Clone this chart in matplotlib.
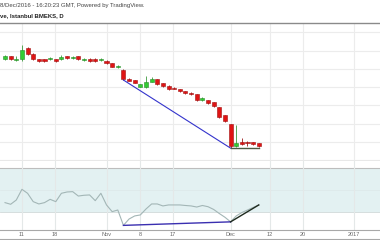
import matplotlib
matplotlib.use("Agg")
import matplotlib.pyplot as plt
import numpy as np
from matplotlib.lines import Line2D

# ---------------- DATA ----------------
# daily candles, Oct -> Dec 2016 (index = trading day)
opens = [1.454, 1.470, 1.451, 1.454, 1.512, 1.481, 1.452, 1.452, 1.452, 1.452,
         1.454, 1.470, 1.459, 1.470, 1.446, 1.454, 1.454, 1.448, 1.443, 1.430,
         1.408, 1.393, 1.347, 1.339, 1.302, 1.299, 1.330, 1.343, 1.321, 1.308,
         1.295, 1.290, 1.279, 1.270, 1.262, 1.230, 1.230, 1.219, 1.191, 1.148,
         1.098, 0.978, 1.000, 0.997, 1.000, 0.995]
closes = [1.470, 1.452, 1.454, 1.503, 1.481, 1.452, 1.443, 1.443, 1.457, 1.443,
          1.466, 1.457, 1.464, 1.452, 1.454, 1.443, 1.443, 1.452, 1.430, 1.411,
          1.417, 1.344, 1.336, 1.325, 1.315, 1.330, 1.343, 1.315, 1.306, 1.288,
          1.292, 1.279, 1.268, 1.260, 1.230, 1.242, 1.213, 1.197, 1.137, 1.115,
          0.978, 0.995, 0.989, 0.996, 0.989, 0.978]
highs = [1.475, 1.472, 1.472, 1.530, 1.519, 1.484, 1.454, 1.454, 1.464, 1.454,
         1.475, 1.472, 1.472, 1.472, 1.459, 1.457, 1.457, 1.459, 1.446, 1.432,
         1.420, 1.399, 1.350, 1.341, 1.318, 1.361, 1.355, 1.346, 1.324, 1.311,
         1.301, 1.292, 1.281, 1.273, 1.265, 1.246, 1.232, 1.221, 1.194, 1.150,
         1.101, 1.093, 1.022, 1.005, 1.003, 0.997]
lows = [1.448, 1.448, 1.443, 1.443, 1.475, 1.448, 1.440, 1.440, 1.448, 1.440,
        1.451, 1.454, 1.452, 1.448, 1.443, 1.440, 1.440, 1.443, 1.427, 1.408,
        1.404, 1.339, 1.333, 1.322, 1.299, 1.296, 1.327, 1.312, 1.303, 1.285,
        1.290, 1.276, 1.265, 1.257, 1.227, 1.227, 1.210, 1.194, 1.134, 1.112,
        0.967, 0.973, 0.986, 0.978, 0.986, 0.975]

rsi = [38.5, 37.0, 40.9, 50.6, 47.0, 39.4, 37.3, 38.5, 41.5, 39.4,
       47.0, 48.2, 48.5, 44.5, 45.2, 45.5, 40.3, 47.0, 36.4, 30.3,
       31.8, 17.8, 23.6, 26.4, 27.3, 32.7, 37.3, 37.3, 35.5, 36.4,
       36.4, 36.4, 35.9, 35.5, 34.5, 35.9, 34.8, 32.3, 28.6, 25.2,
       21.0, 26.4, 29.5, 31.8, 34.1, 36.4]

tick_pos = [3, 8.9, 18, 24, 29.8, 40, 47, 52.8, 61.9]
tick_labels = ["11", "18", "Nov", "8", "17", "Dec", "12", "20", "2017"]

# divergence drawing (candle indices)
div_from = 21
div_to = 40
last_bar = 45

# ---------------- FIGURE ----------------
fig = plt.figure(figsize=(3.8, 2.4), dpi=100)
fig.patch.set_facecolor("white")

ax1 = fig.add_axes([0, 0.330, 1, 0.574])
ax2 = fig.add_axes([0, 0.0417, 1, 0.2875])

x = np.arange(len(opens))
o = np.array(opens)
c = np.array(closes)
up = c >= o

grid_col = "#ececec"

# ---------------- PRICE PANE ----------------
for xv in tick_pos:
    ax1.axvline(xv, color=grid_col, lw=0.8, zorder=0)
for yv in np.arange(0.9, 1.65, 0.1):
    ax1.axhline(yv, color=grid_col, lw=0.8, zorder=0)

wick_cols = np.where(up, "#3d9a3d", "#9a1a1a")
ax1.vlines(x, lows, highs, colors=wick_cols, lw=0.6, zorder=2)

body_h = np.where(np.abs(c - o) < 0.002, 0.002, c - o)
ax1.bar(x[up], body_h[up], bottom=o[up], width=0.72,
        color="#33cc33", edgecolor="#2a8a2a", lw=0.4, zorder=3)
ax1.bar(x[~up], body_h[~up], bottom=o[~up], width=0.72,
        color="#e01414", edgecolor="#a01010", lw=0.4, zorder=3)

ax1.plot([div_from, div_to], [lows[div_from], lows[div_to]],
         color="#3434cc", lw=0.8, zorder=4)
ax1.plot([div_to, last_bar], [lows[div_to], lows[div_to]],
         color="#4d5b45", lw=1.0, zorder=4)

ax1.set_xlim(-0.89, 66.5)
ax1.set_ylim(0.8978, 1.6503)
ax1.set_xticks([])
ax1.set_yticks([])
for s in ["left", "right"]:
    ax1.spines[s].set_visible(False)
ax1.spines["top"].set_color("#8a8a8a")
ax1.spines["top"].set_linewidth(1.0)
ax1.spines["bottom"].set_color("#a8a8a8")
ax1.spines["bottom"].set_linewidth(0.8)

# ---------------- RSI PANE ----------------
ax2.axhspan(30, 70, color="#e3f1f2", zorder=0, lw=0)
ax2.axhline(70, color="#bdbdbd", lw=0.8, zorder=1)
ax2.axhline(30, color="#cfd8d8", lw=0.6, zorder=1)
ax2.axhline(50, color="#dde8e8", lw=0.5, zorder=1)
for xv in tick_pos:
    ax2.axvline(xv, color="#e4e8e8", lw=0.8, zorder=1)

ax2.plot(x, rsi, color="#a3b6b6", lw=0.8, zorder=3)
ax2.plot([div_from, div_to], [rsi[div_from], rsi[div_to]],
         color="#3a2fb0", lw=1.0, zorder=4)
ax2.plot([div_to, last_bar], [rsi[div_to], rsi[last_bar]],
         color="#1e2a1e", lw=1.0, zorder=4)

ax2.set_xlim(-0.89, 66.5)
ax2.set_ylim(13.6, 76.4)
ax2.set_yticks([])
ax2.set_xticks(tick_pos)
ax2.set_xticklabels(tick_labels, fontsize=4, color="#666666",
                    family="Liberation Sans")
ax2.tick_params(axis="x", length=0, pad=1.5)
for s in ["left", "right", "top"]:
    ax2.spines[s].set_visible(False)
ax2.spines["bottom"].set_color("#a8a8a8")
ax2.spines["bottom"].set_linewidth(0.8)

# bottom border of the time scale
fig.add_artist(Line2D([0, 1], [0.005, 0.005], color="#a8a8a8", lw=0.8,
                      transform=fig.transFigure))

# ---------------- HEADER ----------------
fig.text(0.001, 0.975, "8/Dec/2016 - 16:20:23 GMT, Powered by TradingView.",
         fontsize=4.3, color="#444444", family="Liberation Sans",
         va="center", ha="left")
fig.text(0.0, 0.933, "ve, Istanbul BMEKS, D",
         fontsize=4.3, color="#222222", family="Liberation Sans",
         fontweight="bold", va="center", ha="left")

plt.savefig("out.png", dpi=100)
